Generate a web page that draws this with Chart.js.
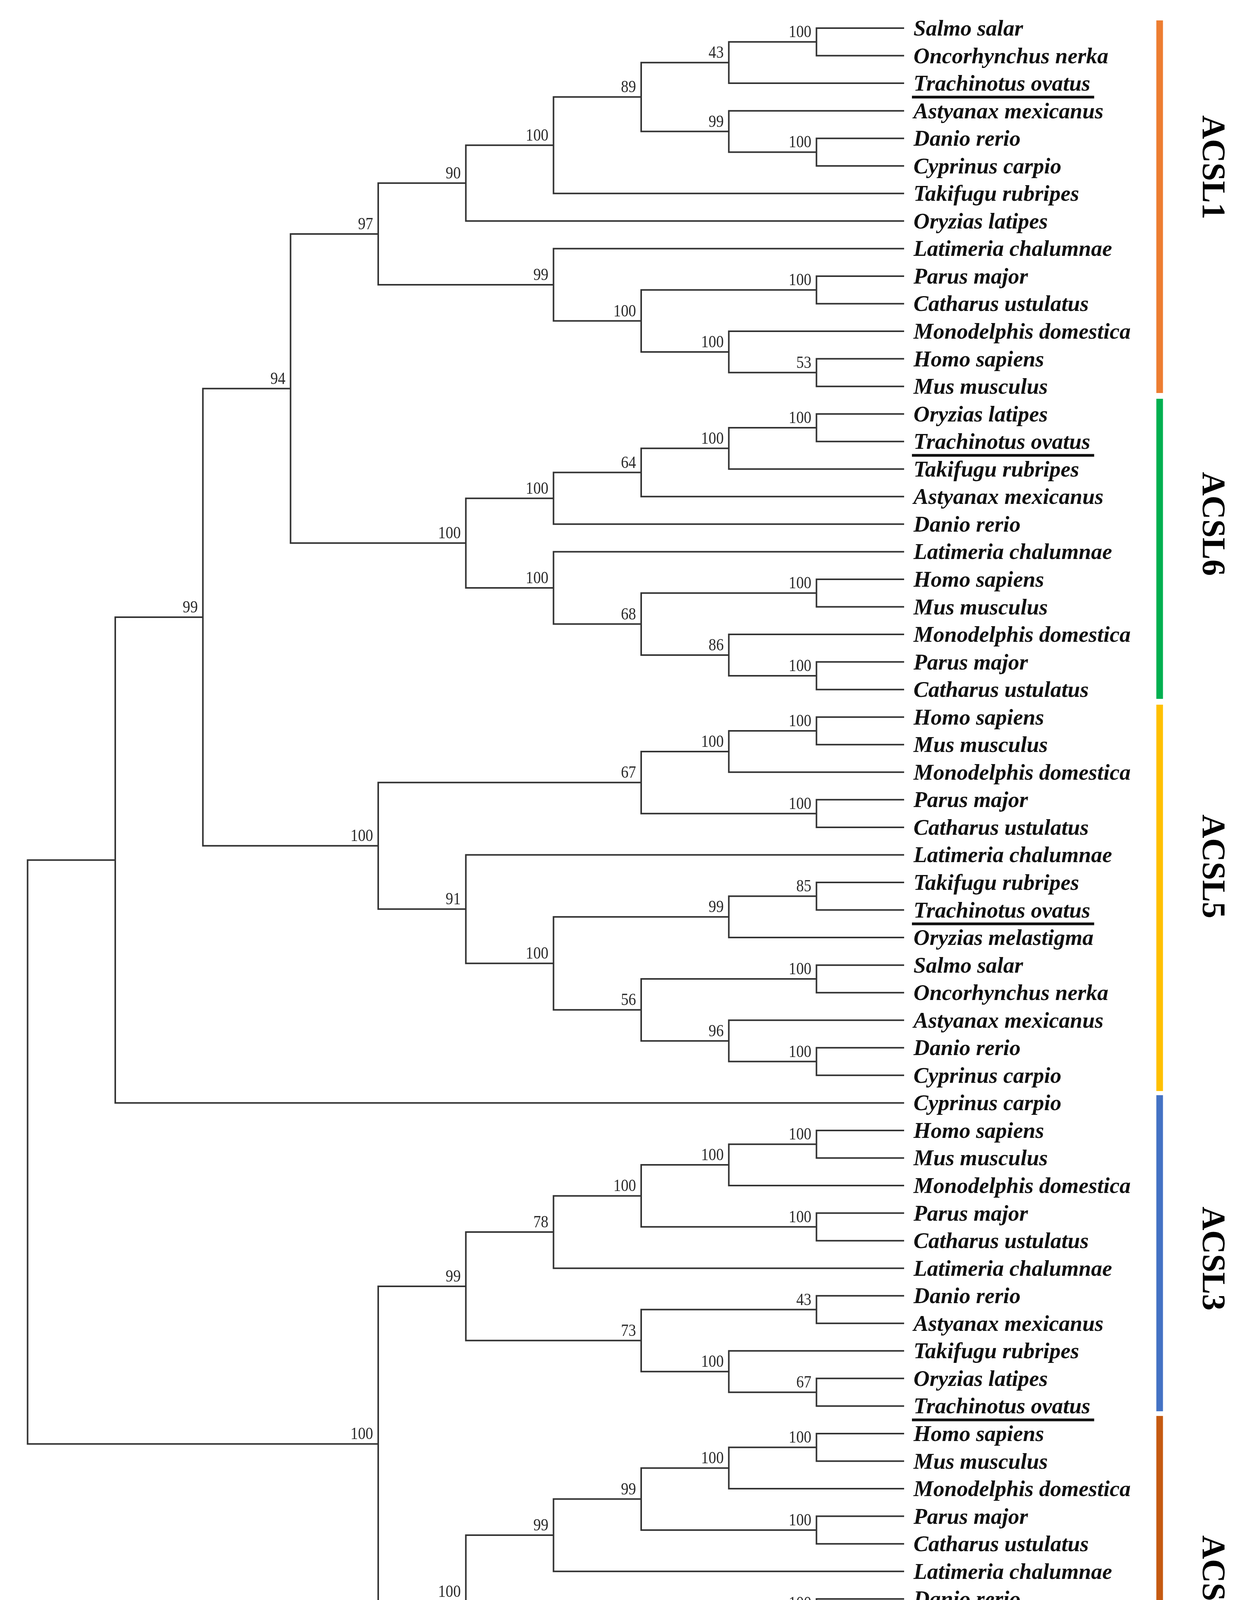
<!DOCTYPE html>
<html>
<head>
<meta charset="utf-8">
<script src="https://cdn.jsdelivr.net/npm/chart.js@4"></script>
<style>
  html, body { margin: 0; padding: 0; background: #ffffff; overflow: hidden; }
  canvas { display: block; }
</style>
</head>
<body>
<canvas id="tree" width="3189" height="4532"></canvas>
<script>
// ---------------- DATA ----------------
// Leaf (tip) labels, top to bottom
const leafNames = [
  "Salmo salar","Oncorhynchus nerka","Trachinotus ovatus","Astyanax mexicanus","Danio rerio",
  "Cyprinus carpio","Takifugu rubripes","Oryzias latipes","Latimeria chalumnae","Parus major",
  "Catharus ustulatus","Monodelphis domestica","Homo sapiens","Mus musculus",
  "Oryzias latipes","Trachinotus ovatus","Takifugu rubripes","Astyanax mexicanus","Danio rerio",
  "Latimeria chalumnae","Homo sapiens","Mus musculus","Monodelphis domestica","Parus major",
  "Catharus ustulatus",
  "Homo sapiens","Mus musculus","Monodelphis domestica","Parus major","Catharus ustulatus",
  "Latimeria chalumnae","Takifugu rubripes","Trachinotus ovatus","Oryzias melastigma","Salmo salar",
  "Oncorhynchus nerka","Astyanax mexicanus","Danio rerio","Cyprinus carpio",
  "Cyprinus carpio",
  "Homo sapiens","Mus musculus","Monodelphis domestica","Parus major","Catharus ustulatus",
  "Latimeria chalumnae","Danio rerio","Astyanax mexicanus","Takifugu rubripes","Oryzias latipes",
  "Trachinotus ovatus",
  "Homo sapiens","Mus musculus","Monodelphis domestica","Parus major","Catharus ustulatus",
  "Latimeria chalumnae","Danio rerio","Astyanax mexicanus","Salmo salar","Oryzias latipes",
  " Takifugu rubripes","Trachinotus ovatus"
];
const underlinedSpecies = ["Trachinotus ovatus"];

// Topology (Newick with leaf indices; numbers after ')' are bootstrap supports)
const cladeACSL1 = "((((((0,1)100,2)43,(3,(4,5)100)99)89,6)100,7)90,(8,((9,10)100,(11,(12,13)53)100)100)99)97";
const cladeACSL6 = "(((((14,15)100,16)100,17)64,18)100,(19,((20,21)100,(22,(23,24)100)86)68)100)100";
const cladeACSL5 = "((((25,26)100,27)100,(28,29)100)67,(30,(((31,32)85,33)99,((34,35)100,(36,(37,38)100)96)56)100)91)100";
const cladeACSL3 = "(((((40,41)100,42)100,(43,44)100)100,45)78,((46,47)43,(48,(49,50)67)100)73)99";
const cladeACSL4 = "(((((51,52)100,53)100,(54,55)100)99,56)99,(((57,58)100,59)60,(60,(61,62)93)91)99)100";

// Gene-family brackets (in leaf-index units)
const groupNames  = ["ACSL1","ACSL6","ACSL5","ACSL3","ACSL4"];
const groupColors = ["#ED7D31","#00B050","#FFC000","#4472C4","#C55A11"];
const groupStart  = [-0.28, 13.45, 24.55, 38.72, 50.36];
const groupEnd    = [13.24, 24.34, 38.57, 50.19, 62.31];
const groupLabelAt = [5.05, 17.99, 30.42, 44.65, 56.58];

// ---------------- TREE BUILD ----------------
const treeNewick = "((((" + cladeACSL1 + "," + cladeACSL6 + ")94," + cladeACSL5 + ")99,39),(" +
                   cladeACSL3 + "," + cladeACSL4 + ")100)";

function parseNewick(s) {
  let i = 0;
  function node() {
    if (s[i] === '(') {
      i++;
      const ch = [node()];
      while (s[i] === ',') { i++; ch.push(node()); }
      i++; // ')'
      let lab = '';
      while (i < s.length && /[0-9.]/.test(s[i])) lab += s[i++];
      return { children: ch, support: lab };
    }
    let n = '';
    while (i < s.length && /[0-9]/.test(s[i])) n += s[i++];
    return { leaf: parseInt(n, 10) };
  }
  return node();
}
const root = parseNewick(treeNewick);

function setHeight(n) {
  if (n.children) { n.h = 1 + Math.max(...n.children.map(setHeight)); }
  else n.h = 0;
  return n.h;
}
const maxH = setHeight(root);
function setPos(n) {
  n.x = maxH - n.h;
  if (n.children) {
    n.children.forEach(setPos);
    n.y = (n.children[0].y + n.children[n.children.length - 1].y) / 2;
  } else n.y = n.leaf;
}
setPos(root);

const segments = [];
const internalNodes = [];
(function walk(n) {
  if (!n.children) return;
  internalNodes.push(n);
  n.children.forEach(c => {
    segments.push({ x: n.x, y: n.y }, { x: n.x, y: c.y }, { x: c.x, y: c.y }, { x: c.x, y: null });
    walk(c);
  });
})(root);

// ---------------- DRAW ----------------
const labelPlugin = {
  id: 'treeLabels',
  afterDatasetsDraw(chart) {
    const ctx = chart.ctx;
    const xs = chart.scales.x, ys = chart.scales.y;
    ctx.save();

    // bootstrap values
    ctx.fillStyle = '#2a2a2a';
    ctx.font = "44px 'Liberation Serif'";
    ctx.textAlign = 'right';
    ctx.textBaseline = 'alphabetic';
    internalNodes.forEach(n => {
      if (!n.support) return;
      const px = xs.getPixelForValue(n.x) - 13;
      const py = ys.getPixelForValue(n.y) - 12;
      ctx.save();
      ctx.translate(px, py);
      ctx.scale(0.88, 1);
      ctx.fillText(n.support, 0, 0);
      ctx.restore();
    });

    // leaf labels
    ctx.textAlign = 'left';
    ctx.font = "italic bold 57px 'Liberation Serif'";
    ctx.fillStyle = '#111111';
    const lx = xs.getPixelForValue(maxH) + 24;
    leafNames.forEach((name, i) => {
      const py = ys.getPixelForValue(i);
      ctx.fillText(name, lx, py + 19);
      if (underlinedSpecies.includes(name.trim())) {
        const w = ctx.measureText(name).width;
        ctx.fillRect(lx - 4, py + 32, w + 14, 7);
      }
    });

    // group bars + labels
    const barX = 2968;
    groupNames.forEach((g, k) => {
      const y0 = ys.getPixelForValue(groupStart[k]);
      const y1 = ys.getPixelForValue(groupEnd[k]);
      ctx.fillStyle = groupColors[k];
      ctx.fillRect(barX - 8.5, y0, 17, y1 - y0);
      ctx.save();
      ctx.translate(3100, ys.getPixelForValue(groupLabelAt[k]));
      ctx.rotate(Math.PI / 2);
      ctx.fillStyle = '#000000';
      ctx.font = "bold 84px 'Liberation Serif'";
      ctx.textAlign = 'center';
      ctx.textBaseline = 'middle';
      ctx.fillText(g, 0, 0);
      ctx.restore();
    });
    ctx.restore();
  }
};

new Chart(document.getElementById('tree'), {
  type: 'line',
  data: {
    datasets: [{
      data: segments,
      borderColor: '#333333',
      borderWidth: 4,
      pointRadius: 0,
      tension: 0,
      spanGaps: false,
      borderJoinStyle: 'miter',
      clip: 10
    }]
  },
  options: {
    responsive: false,
    devicePixelRatio: 1,
    animation: false,
    events: [],
    layout: { padding: { left: 70.6, right: 875, top: 72, bottom: 86 } },
    plugins: { legend: { display: false }, tooltip: { enabled: false } },
    scales: {
      x: { type: 'linear', min: 0, max: maxH, display: false },
      y: { type: 'linear', min: 0, max: leafNames.length - 1, reverse: true, display: false }
    }
  },
  plugins: [labelPlugin]
});
</script>
</body>
</html>
